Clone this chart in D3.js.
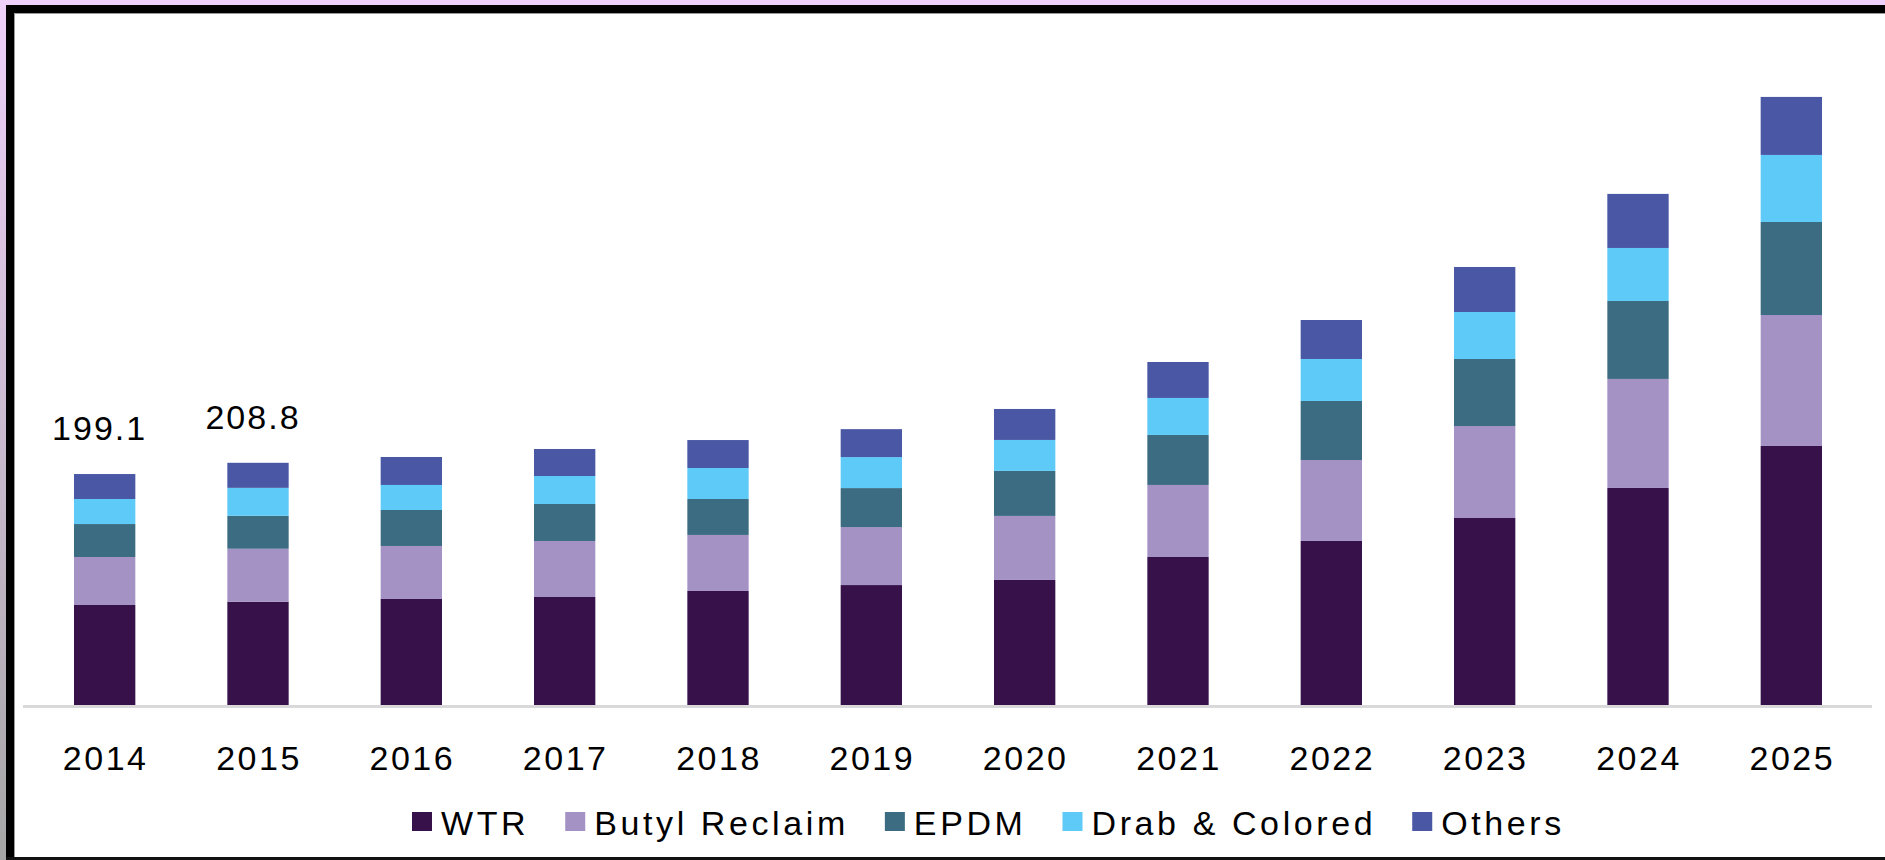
<!DOCTYPE html>
<html>
<head>
<meta charset="utf-8">
<script src="https://cdn.jsdelivr.net/npm/d3@7"></script>
<style>
  body { margin: 0; background: #fff; }
  svg { display: block; }
  text { font-family: "Liberation Sans", Arial, sans-serif; fill: #000; }
</style>
</head>
<body>
<svg width="1885" height="860"></svg>
<script>

// values (stack order bottom -> top)
const years = ['2014', '2015', '2016', '2017', '2018', '2019', '2020', '2021', '2022', '2023', '2024', '2025'];
const wtr    = [86.2, 89.0, 91.4, 93.1, 98.3, 103.4, 107.8, 127.6, 141.4, 161.2, 187.1, 223.3];
const butyl  = [41.4, 45.7, 45.7, 48.3, 48.3, 50.0, 55.2, 62.1, 69.8, 79.3, 94.0, 112.9];
const epdm   = [28.4, 28.4, 31.0, 31.9, 31.0, 33.6, 38.8, 43.1, 50.9, 57.8, 67.2, 80.2];
const drab   = [21.6, 24.1, 21.6, 24.1, 26.7, 26.7, 26.7, 31.9, 36.2, 40.5, 45.7, 57.8];
const others = [21.5, 21.6, 24.1, 23.3, 24.1, 24.1, 26.7, 31.0, 33.6, 38.8, 46.6, 50.0];

const seriesNames = ['WTR', 'Butyl Reclaim', 'EPDM', 'Drab & Colored', 'Others'];
const seriesColors = ['#36114a', '#a492c5', '#3c6c82', '#5ecaf7', '#4957a4'];
const labeledYears = ['2014', '2015'];

const svg = d3.select('svg');
const W = 1885, H = 860;

// window frame round the chart
const defs = svg.append('defs');
const grad = defs.append('linearGradient').attr('id', 'edge')
    .attr('x1', 0).attr('y1', 0).attr('x2', 0).attr('y2', 1);
grad.append('stop').attr('offset', '0%').attr('stop-color', '#efd0fa');
grad.append('stop').attr('offset', '100%').attr('stop-color', '#a6a6a6');

svg.append('rect').attr('width', W).attr('height', H).attr('fill', '#fff');
svg.append('rect').attr('width', W).attr('height', 5).attr('fill', '#efd0fa');
svg.append('rect').attr('width', 6).attr('height', H).attr('fill', 'url(#edge)');
svg.append('rect').attr('x', 6).attr('y', 5).attr('width', W - 6).attr('height', 8).attr('fill', '#000');
svg.append('rect').attr('x', 6).attr('y', 5).attr('width', 8).attr('height', H - 5).attr('fill', '#000');
svg.append('rect').attr('x', 14).attr('y', 13).attr('width', W - 14).attr('height', 1).attr('fill', '#9a9a9a');
svg.append('rect').attr('x', 14).attr('y', 13).attr('width', 1).attr('height', H - 16).attr('fill', '#9a9a9a');
svg.append('rect').attr('x', 6).attr('y', 857).attr('width', W - 6).attr('height', 3).attr('fill', '#111');

var rows = years.map(function(yr, i){
    return {year: yr, 'WTR': wtr[i], 'Butyl Reclaim': butyl[i], 'EPDM': epdm[i],
            'Drab & Colored': drab[i], 'Others': others[i]};
});

const x = d3.scaleBand().domain(years).range([28, 1868])
    .paddingInner(0.6).paddingOuter(0.3);
const y = d3.scaleLinear().domain([0, 600]).range([705, 9]);
const color = d3.scaleOrdinal().domain(seriesNames).range(seriesColors);

var stacked = d3.stack().keys(seriesNames)(rows);

const chart = svg.append('g');

chart.selectAll('g.layer').data(stacked).enter()
    .append('g')
    .attr('class', 'layer')
    .attr('fill', d => color(d.key))
    .selectAll('rect')
    .data(d => d).enter()
    .append('rect')
    .attr('x', d => x(d.data.year))
    .attr('width', x.bandwidth())
    .attr('y', d => y(d[1]))
    .attr('height', d => y(d[0]) - y(d[1]));

// x axis: light grey base line, no ticks
const xAxis = d3.axisBottom(x).tickSize(0).tickSizeOuter(0);
var axis = chart.append('g')
    .attr('transform', 'translate(0,706)')
    .call(xAxis);
axis.select('.domain').remove();
axis.insert('line', ':first-child')
    .attr('x1', x.range()[0] - 5).attr('x2', x.range()[1] + 4)
    .attr('y1', 0.5).attr('y2', 0.5)
    .attr('stroke', '#d9d9d9').attr('stroke-width', 3);
axis.selectAll('text')
    .attr('y', 64).attr('dy', 0)
    .attr('dx', 1)
    .style('font-family', '"Liberation Sans", Arial, sans-serif')
    .style('font-size', '34px')
    .style('letter-spacing', '2.5px')
    .attr('fill', '#000');

// totals above the first bars
var totals = rows.filter(d => labeledYears.includes(d.year));
chart.selectAll('text.total').data(totals).enter()
    .append('text')
    .attr('class', 'total')
    .attr('x', d => x(d.year) + x.bandwidth() / 2 - 5)
    .attr('y', d => y(d3.sum(seriesNames, k => d[k])) - 34)
    .attr('text-anchor', 'middle')
    .style('font-size', '34px')
    .style('letter-spacing', '2px')
    .text(d => d3.format('.1f')(d3.sum(seriesNames, k => d[k])));

// legend
var legend = svg.append('g').attr('transform', 'translate(412,0)');
var lx = 0;
seriesNames.forEach(function(name){
    var item = legend.append('g').attr('transform', 'translate(' + lx + ',0)');
    item.append('rect')
        .attr('y', 812).attr('width', 20).attr('height', 19)
        .attr('fill', color(name));
    var t = item.append('text')
        .attr('x', 29).attr('y', 835)
        .style('font-size', '34px')
        .style('letter-spacing', '3.6px')
        .text(name);
    lx += 29 + t.node().getComputedTextLength() + 36;
});

</script>
</body>
</html>
